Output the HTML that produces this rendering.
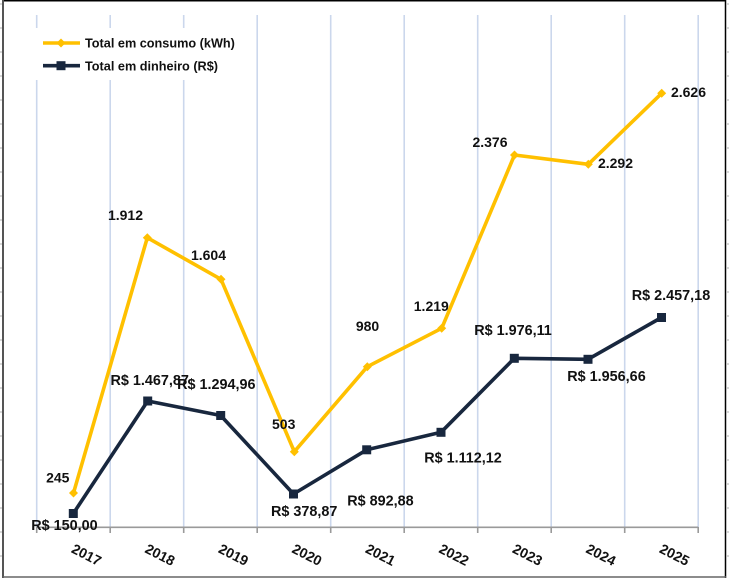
<!DOCTYPE html>
<html>
<head>
<meta charset="utf-8">
<style>
html,body{margin:0;padding:0;background:#fff;}
svg{display:block;}
text{font-family:"Liberation Sans",sans-serif;font-weight:bold;fill:#111;}
</style>
</head>
<body>
<svg width="729" height="579" viewBox="0 0 729 579" xmlns="http://www.w3.org/2000/svg">
<rect x="0" y="0" width="729" height="579" fill="#fff"/>
<!-- outer sheet ticks -->
<g stroke="#b0b0b0" stroke-width="1">
<line x1="0" y1="4" x2="2" y2="4"/><line x1="0" y1="28" x2="2" y2="28"/><line x1="0" y1="52" x2="2" y2="52"/><line x1="0" y1="76" x2="2" y2="76"/><line x1="0" y1="100" x2="2" y2="100"/><line x1="0" y1="124" x2="2" y2="124"/><line x1="0" y1="148" x2="2" y2="148"/><line x1="0" y1="172" x2="2" y2="172"/><line x1="0" y1="196" x2="2" y2="196"/><line x1="0" y1="220" x2="2" y2="220"/><line x1="0" y1="244" x2="2" y2="244"/><line x1="0" y1="268" x2="2" y2="268"/><line x1="0" y1="292" x2="2" y2="292"/><line x1="0" y1="316" x2="2" y2="316"/><line x1="0" y1="340" x2="2" y2="340"/><line x1="0" y1="364" x2="2" y2="364"/><line x1="0" y1="388" x2="2" y2="388"/><line x1="0" y1="412" x2="2" y2="412"/><line x1="0" y1="436" x2="2" y2="436"/><line x1="0" y1="460" x2="2" y2="460"/><line x1="0" y1="484" x2="2" y2="484"/><line x1="0" y1="508" x2="2" y2="508"/><line x1="0" y1="532" x2="2" y2="532"/><line x1="0" y1="556" x2="2" y2="556"/>
<line x1="727" y1="4" x2="729" y2="4"/><line x1="727" y1="28" x2="729" y2="28"/><line x1="727" y1="52" x2="729" y2="52"/><line x1="727" y1="76" x2="729" y2="76"/><line x1="727" y1="100" x2="729" y2="100"/><line x1="727" y1="124" x2="729" y2="124"/><line x1="727" y1="148" x2="729" y2="148"/><line x1="727" y1="172" x2="729" y2="172"/><line x1="727" y1="196" x2="729" y2="196"/><line x1="727" y1="220" x2="729" y2="220"/><line x1="727" y1="244" x2="729" y2="244"/><line x1="727" y1="268" x2="729" y2="268"/><line x1="727" y1="292" x2="729" y2="292"/><line x1="727" y1="316" x2="729" y2="316"/><line x1="727" y1="340" x2="729" y2="340"/><line x1="727" y1="364" x2="729" y2="364"/><line x1="727" y1="388" x2="729" y2="388"/><line x1="727" y1="412" x2="729" y2="412"/><line x1="727" y1="436" x2="729" y2="436"/><line x1="727" y1="460" x2="729" y2="460"/><line x1="727" y1="484" x2="729" y2="484"/><line x1="727" y1="508" x2="729" y2="508"/><line x1="727" y1="532" x2="729" y2="532"/><line x1="727" y1="556" x2="729" y2="556"/>
</g>
<!-- borders -->
<line x1="3" y1="0.75" x2="726" y2="0.75" stroke="#000" stroke-width="1.5"/>
<line x1="3" y1="0" x2="3" y2="578" stroke="#555" stroke-width="2"/>
<line x1="725.5" y1="0" x2="725.5" y2="578" stroke="#000" stroke-width="1.5"/>
<line x1="3" y1="577" x2="726" y2="577" stroke="#666" stroke-width="1.5"/>

<!-- gridlines -->
<g stroke="#cbd7ec" stroke-width="1.6">
<line x1="36.7" y1="15" x2="36.7" y2="527"/>
<line x1="110.2" y1="15" x2="110.2" y2="527"/>
<line x1="183.7" y1="15" x2="183.7" y2="527"/>
<line x1="257.2" y1="15" x2="257.2" y2="527"/>
<line x1="330.7" y1="15" x2="330.7" y2="527"/>
<line x1="404.2" y1="15" x2="404.2" y2="527"/>
<line x1="477.7" y1="15" x2="477.7" y2="527"/>
<line x1="551.2" y1="15" x2="551.2" y2="527"/>
<line x1="624.7" y1="15" x2="624.7" y2="527"/>
<line x1="698.2" y1="15" x2="698.2" y2="527"/>
</g>

<!-- x axis -->
<g stroke="#9a9a9a" stroke-width="1.6">
<line x1="36.7" y1="527.3" x2="698.2" y2="527.3"/>
<line x1="36.7" y1="527" x2="36.7" y2="533"/>
<line x1="110.2" y1="527" x2="110.2" y2="533"/>
<line x1="183.7" y1="527" x2="183.7" y2="533"/>
<line x1="257.2" y1="527" x2="257.2" y2="533"/>
<line x1="330.7" y1="527" x2="330.7" y2="533"/>
<line x1="404.2" y1="527" x2="404.2" y2="533"/>
<line x1="477.7" y1="527" x2="477.7" y2="533"/>
<line x1="551.2" y1="527" x2="551.2" y2="533"/>
<line x1="624.7" y1="527" x2="624.7" y2="533"/>
<line x1="698.2" y1="527" x2="698.2" y2="533"/>
</g>

<!-- x labels -->
<g font-size="14">
<text transform="translate(70.5,552) rotate(27)">2017</text>
<text transform="translate(144,552) rotate(27)">2018</text>
<text transform="translate(217.5,552) rotate(27)">2019</text>
<text transform="translate(291,552) rotate(27)">2020</text>
<text transform="translate(364.5,552) rotate(27)">2021</text>
<text transform="translate(438,552) rotate(27)">2022</text>
<text transform="translate(511.5,552) rotate(27)">2023</text>
<text transform="translate(585,552) rotate(27)">2024</text>
<text transform="translate(658.5,552) rotate(27)">2025</text>
</g>

<!-- yellow series -->
<polyline fill="none" stroke="#ffc000" stroke-width="3.6" stroke-linejoin="round"
 points="73.5,493 147.3,237.7 221,279.3 294.3,451.7 367.3,366.7 441.7,328.3 514.5,155 588.3,164.3 661.7,93.3"/>
<g fill="#ffc000">
<polygon points="73.5,488.5 78,493 73.5,497.5 69,493"/>
<polygon points="147.3,233.2 151.8,237.7 147.3,242.2 142.8,237.7"/>
<polygon points="221,274.8 225.5,279.3 221,283.8 216.5,279.3"/>
<polygon points="294.3,447.2 298.8,451.7 294.3,456.2 289.8,451.7"/>
<polygon points="367.3,362.2 371.8,366.7 367.3,371.2 362.8,366.7"/>
<polygon points="441.7,323.8 446.2,328.3 441.7,332.8 437.2,328.3"/>
<polygon points="514.5,150.5 519,155 514.5,159.5 510,155"/>
<polygon points="588.3,159.8 592.8,164.3 588.3,168.8 583.8,164.3"/>
<polygon points="661.7,88.8 666.2,93.3 661.7,97.8 657.2,93.3"/>
</g>

<!-- dark series -->
<polyline fill="none" stroke="#18273e" stroke-width="3.6" stroke-linejoin="round"
 points="73.3,513.5 147.7,401 220.7,415.5 293.5,494 366.7,449.8 441,432.3 514.3,358.3 588,359.3 661.5,317.5"/>
<g fill="#18273e">
<rect x="68.8" y="509" width="9" height="9"/>
<rect x="143.2" y="396.5" width="9" height="9"/>
<rect x="216.2" y="411" width="9" height="9"/>
<rect x="289" y="489.5" width="9" height="9"/>
<rect x="362.2" y="445.3" width="9" height="9"/>
<rect x="436.5" y="427.8" width="9" height="9"/>
<rect x="509.8" y="353.8" width="9" height="9"/>
<rect x="583.5" y="354.8" width="9" height="9"/>
<rect x="657" y="313" width="9" height="9"/>
</g>

<!-- yellow labels -->
<g font-size="14" text-anchor="middle">
<text x="57.8" y="482.3">245</text>
<text x="125.5" y="220">1.912</text>
<text x="208.5" y="260">1.604</text>
<text x="283.7" y="429">503</text>
<text x="367.5" y="331">980</text>
<text x="431.3" y="311">1.219</text>
<text x="490" y="147">2.376</text>
<text x="615.5" y="168">2.292</text>
<text x="688.5" y="97">2.626</text>
</g>

<!-- dark labels -->
<g font-size="14.4" text-anchor="middle">
<text x="64.5" y="530">R$ 150,00</text>
<text x="149.7" y="385">R$ 1.467,87</text>
<text x="216.3" y="389">R$ 1.294,96</text>
<text x="304.2" y="516">R$ 378,87</text>
<text x="380.5" y="505.5">R$ 892,88</text>
<text x="463" y="462.5">R$ 1.112,12</text>
<text x="513" y="335">R$ 1.976,11</text>
<text x="606.5" y="381">R$ 1.956,66</text>
<text x="671" y="300">R$ 2.457,18</text>
</g>

<!-- legend -->
<rect x="30" y="28" width="222" height="52" fill="#fff"/>
<line x1="43" y1="43" x2="80" y2="43" stroke="#ffc000" stroke-width="3.6"/>
<polygon points="61,38.5 65.5,43 61,47.5 56.5,43" fill="#ffc000"/>
<line x1="43" y1="65.7" x2="80" y2="65.7" stroke="#18273e" stroke-width="3.6"/>
<rect x="56.5" y="61.2" width="9" height="9" fill="#18273e"/>
<text x="85" y="47.6" font-size="12.7">Total em consumo (kWh)</text>
<text x="85" y="70.3" font-size="12.7">Total em dinheiro (R$)</text>
</svg>
</body>
</html>
